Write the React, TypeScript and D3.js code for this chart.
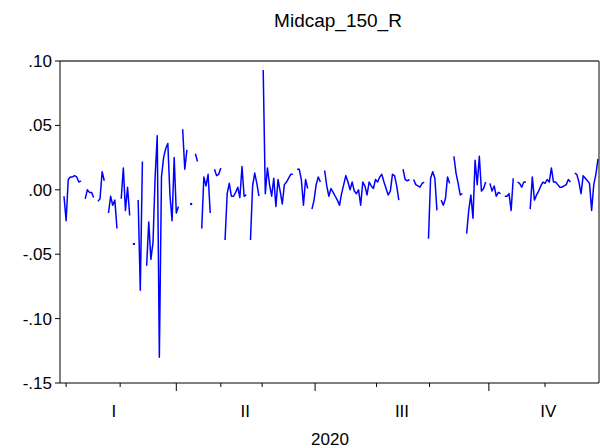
import React, { useEffect, useRef } from "react";
import * as d3 from "d3";

const title = "Midcap_150_R";
const xTitle = "2020";

// daily returns in observation order (null = missing observation)
const returns: (number | null)[] = [
  // Q1
  -0.005, -0.024, 0.008, 0.010, 0.010, 0.011, 0.010, 0.006, 0.007, null,
  -0.007, 0.000, -0.002, -0.002, -0.006, null,
  -0.009, -0.007, 0.014, 0.007, null,
  -0.018, -0.005, -0.012, -0.008, -0.030, null,
  -0.007, 0.017, -0.016, 0.002, -0.020, null,
  -0.042, null,
  -0.008, -0.078, 0.022, null,
  -0.059, -0.025, -0.054, -0.041, 0.010, 0.042, -0.130, 0.010, 0.025, 0.032, 0.036, -0.004,
  -0.024, 0.025, -0.018, -0.013, null,
  // Q2
  0.047, 0.016, 0.031, null,
  -0.011, null,
  0.028, 0.022, null,
  -0.030, 0.010, 0.003, 0.012, -0.018, null,
  0.016, 0.011, 0.012, 0.017, null,
  -0.039, -0.003, 0.005, -0.005, -0.005, -0.002, 0.002, -0.006, 0.018, -0.005, -0.004, null,
  -0.039, 0.003, 0.013, 0.005, -0.005, null,
  0.093, -0.003, 0.017, 0.004, -0.005, 0.009, -0.013, 0.008, -0.001, -0.011, 0.004, 0.006, 0.009, 0.012, 0.012, null,
  0.016, 0.016, 0.008, -0.012, 0.008, 0.001, null,
  -0.015, -0.008, 0.004, 0.010, 0.006, null,
  // Q3
  0.015, 0.003, -0.005, 0.001, -0.002, -0.005, -0.008, -0.012, -0.003, 0.004, 0.011, 0.006,
  0.000, 0.006, -0.001, -0.003, 0.000, -0.012, 0.006, 0.003, -0.004, 0.006, 0.003, 0.001,
  0.008, 0.006, 0.010, 0.012, 0.006, 0.001, -0.004, -0.001, 0.012, 0.011, 0.003, -0.008, null,
  0.016, 0.008, 0.007, 0.008, null,
  0.008, 0.004, 0.003, 0.002, 0.005, 0.006, null,
  -0.038, 0.009, 0.014, 0.009, -0.016, null,
  -0.008, -0.012, -0.007, 0.010, 0.005, null,
  0.026, 0.013, 0.005, -0.004, -0.003, null,
  -0.034, -0.016, -0.004, -0.022, 0.023, 0.004, 0.026, -0.001, 0.001, 0.006, null,
  // Q4
  0.005, -0.001, 0.003, -0.005, -0.002, -0.003, null,
  -0.005, -0.005, -0.003, -0.016, 0.009, null,
  0.006, 0.005, 0.002, 0.006, 0.006, null,
  -0.015, 0.010, -0.008, -0.004, -0.001, 0.003, 0.006, 0.005, 0.008, 0.006, 0.017, 0.006,
  0.006, 0.004, 0.002, 0.002, 0.003, 0.004, 0.008, 0.006, null,
  0.013, 0.012, 0.006, -0.003, 0.011, 0.009, 0.007, 0.005, -0.016, 0.004, 0.012, 0.024,
];

const yTickValues = [0.10, 0.05, 0.0, -0.05, -0.10, -0.15];
const yTickLabels = [".10", ".05", ".00", "-.05", "-.10", "-.15"];

// observation positions of month starts and quarter starts
const monthTicks = [1, 26.5, 53, 74, 93.5, 118.5, 147.5, 172.5, 200.5, 227];
const quarterTicks = [53, 118.5, 200.5];
const quarterLabels = ["I", "II", "III", "IV"];
const quarterLabelPos = [23.5, 85.5, 159.5, 228.5];

const W = 600;
const H = 448;
const plot = { left: 60, right: 599, top: 61, bottom: 383 };
const FONT = "'Liberation Sans', Arial, sans-serif";

export default function App() {
  const ref = useRef<SVGSVGElement | null>(null);

  useEffect(() => {
    const svg = d3.select(ref.current);
    svg.selectAll("*").remove();

    const n = returns.length;
    const x = d3.scaleLinear().domain([0, n - 1]).range([64, 598]);
    const y = d3.scaleLinear().domain([-0.15, 0.1]).range([plot.bottom, plot.top]);

    svg.append("rect").attr("width", W).attr("height", H).attr("fill", "#fff");

    // frame
    svg.append("line")
      .attr("x1", plot.left).attr("x2", plot.right)
      .attr("y1", plot.top).attr("y2", plot.top)
      .attr("stroke", "#404040").attr("stroke-width", 1.3);
    svg.append("line")
      .attr("x1", plot.right).attr("x2", plot.right)
      .attr("y1", plot.top).attr("y2", plot.bottom)
      .attr("stroke", "#404040").attr("stroke-width", 1.3);
    svg.append("line")
      .attr("x1", plot.left).attr("x2", plot.left)
      .attr("y1", plot.top).attr("y2", plot.bottom)
      .attr("stroke", "#000").attr("stroke-width", 1);
    svg.append("line")
      .attr("x1", plot.left).attr("x2", plot.right)
      .attr("y1", plot.bottom).attr("y2", plot.bottom)
      .attr("stroke", "#000").attr("stroke-width", 1);

    // y ticks
    const yg = svg.append("g");
    yTickValues.forEach((v, i) => {
      const yy = y(v);
      yg.append("line")
        .attr("x1", plot.left - 5).attr("x2", plot.left)
        .attr("y1", yy).attr("y2", yy)
        .attr("stroke", "#000");
      yg.append("text")
        .attr("x", plot.left - 8).attr("y", yy)
        .attr("dy", "0.35em")
        .attr("text-anchor", "end")
        .attr("font-family", FONT).attr("font-size", 17)
        .text(yTickLabels[i]);
    });

    // x ticks
    const xg = svg.append("g");
    monthTicks.forEach((t) => {
      const isQ = quarterTicks.includes(t);
      xg.append("line")
        .attr("x1", x(t)).attr("x2", x(t))
        .attr("y1", plot.bottom).attr("y2", plot.bottom + (isQ ? 8 : 4))
        .attr("stroke", "#000");
    });
    quarterLabels.forEach((q, i) => {
      xg.append("text")
        .attr("x", x(quarterLabelPos[i])).attr("y", 417)
        .attr("text-anchor", "middle")
        .attr("font-family", FONT).attr("font-size", 17)
        .text(q);
    });
    svg.append("text")
      .attr("x", 330).attr("y", 445)
      .attr("text-anchor", "middle")
      .attr("font-family", FONT).attr("font-size", 17)
      .text(xTitle);

    // title
    svg.append("text")
      .attr("x", 338).attr("y", 27)
      .attr("text-anchor", "middle")
      .attr("font-family", FONT).attr("font-size", 19)
      .text(title);

    // series line
    const line = d3.line<number | null>()
      .defined((d) => d !== null)
      .x((_, i) => x(i))
      .y((d) => y(d as number));
    svg.append("path")
      .datum(returns)
      .attr("d", line)
      .attr("fill", "none")
      .attr("stroke", "#0000ff")
      .attr("stroke-width", 1.5)
      .attr("stroke-linejoin", "round");

    // isolated observations drawn as dots
    const isolated = returns
      .map((v, i) => ({ v, i }))
      .filter(
        ({ v, i }) =>
          v !== null &&
          (i === 0 || returns[i - 1] === null) &&
          (i === returns.length - 1 || returns[i + 1] === null)
      );
    svg.selectAll("circle.iso")
      .data(isolated)
      .enter()
      .append("circle")
      .attr("class", "iso")
      .attr("cx", (d) => x(d.i))
      .attr("cy", (d) => y(d.v as number))
      .attr("r", 1.2)
      .attr("fill", "#0000ff");
  }, []);

  return (
    <svg
      ref={ref}
      width={W}
      height={H}
      style={{ position: "absolute", left: 0, top: 0 }}
    />
  );
}
